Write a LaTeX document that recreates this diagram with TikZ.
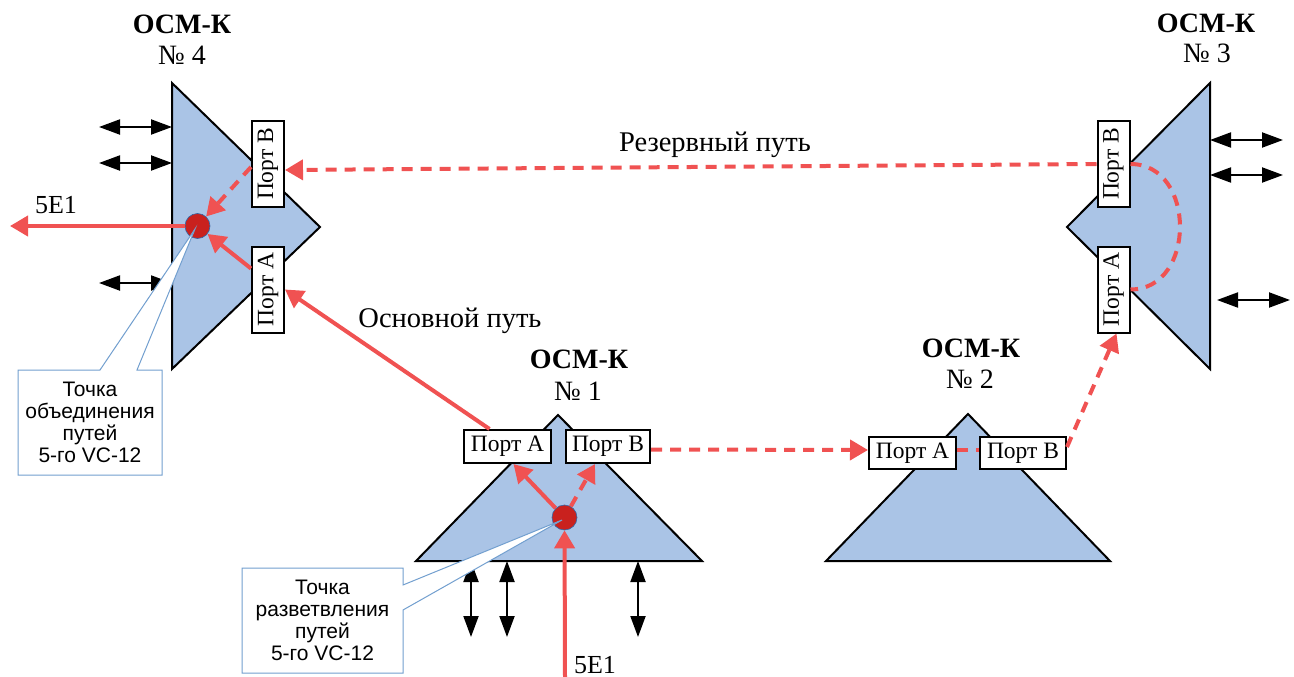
\documentclass[tikz,border=0pt]{standalone}
\usepackage{graphicx}
\usepackage{fontspec}
\setmainfont{Liberation Serif}
\newfontfamily\calloutfont{Liberation Sans}
\usetikzlibrary{arrows.meta}
\definecolor{trifill}{RGB}{170,196,230}
\definecolor{redl}{RGB}{240,82,82}
\definecolor{dotred}{RGB}{201,33,30}
\definecolor{dotblue}{RGB}{52,101,164}
\definecolor{callb}{RGB}{114,159,207}
\begin{document}
\begin{tikzpicture}[x=1pt,y=-1pt,
  trishape/.style={fill=trifill,draw=black,line width=2pt,line join=miter},
  port/.style={draw=black,fill=white,line width=2pt,inner sep=0pt,font=\fontsize{23.5}{25}\selectfont},
  hport/.style={port,minimum width=86pt,minimum height=33pt},
  vport/.style={port,minimum width=32pt,minimum height=86pt},
  redtip/.style={-{Triangle[length=18pt,width=20pt]}},
  redsolid/.style={draw=redl,line width=4pt,redtip},
  reddash/.style={draw=redl,line width=4pt,dash pattern=on 11pt off 8pt,redtip},
  reddashplain/.style={draw=redl,line width=4pt,dash pattern=on 11pt off 8pt},
  dblarrow/.style={draw=black,line width=2pt,{Triangle[length=21pt,width=15pt]}-{Triangle[length=21pt,width=15pt]}},
  dot/.style={circle,fill=dotred,draw=dotblue,line width=0.6pt,minimum size=25pt,inner sep=0pt},
  callout/.style={fill=white,draw=callb,line width=1pt,line join=miter},
  callouttext/.style={align=center,font=\calloutfont\fontsize{21}{22}\selectfont,inner sep=0pt},
  title/.style={anchor=base,font=\fontsize{28}{31}\selectfont\bfseries,inner sep=0pt},
  titlenum/.style={anchor=base,font=\fontsize{28}{31}\selectfont,inner sep=0pt},
  lbl/.style={anchor=base,font=\fontsize{26}{30}\selectfont,inner sep=0pt},
  pathlbl/.style={anchor=base,font=\fontsize{28.5}{32}\selectfont,inner sep=0pt}
]
\useasboundingbox (0,0) rectangle (1294,677);

% ---------- triangles ----------
\draw[trishape] (172,83) -- (320,227) -- (172,369) -- cycle;     % OCM-K 4
\draw[trishape] (1210,83) -- (1067,227) -- (1210,369) -- cycle;  % OCM-K 3
\draw[trishape] (558,415) -- (702,561) -- (416,561) -- cycle;    % OCM-K 1
\draw[trishape] (968,414) -- (1110,561) -- (826,561) -- cycle;   % OCM-K 2

% ---------- titles ----------
\node[title]    (t4a) at (182,34) {ОСМ-К};
\node[titlenum] (t4b) at (182,65) {№ 4};
\node[title]    (t3a) at (1206,33) {ОСМ-К};
\node[titlenum] (t3b) at (1207,63) {№ 3};
\node[title]    (t1a) at (579,368) {ОСМ-К};
\node[titlenum] (t1b) at (578,400) {№ 1};
\node[title]    (t2a) at (971,357) {ОСМ-К};
\node[titlenum] (t2b) at (970,388) {№ 2};

% ---------- ports ----------
\node[vport] (n4pB) at (268,164)   {\rotatebox{90}{Порт В}};
\node[vport] (n4pA) at (268,289.5) {\rotatebox{90}{Порт А}};
\node[vport] (n3pB) at (1113.5,164)   {\rotatebox{90}{Порт В}};
\node[vport] (n3pA) at (1113.5,289.5) {\rotatebox{90}{Порт А}};
\node[hport,minimum width=87pt] (n1pA) at (507.5,446.5) {Порт А};
\node[hport,minimum width=84pt] (n1pB) at (608,446.5)   {Порт В};
\node[hport,minimum width=87pt,minimum height=32pt] (n2pA) at (912.5,453) {Порт А};
\node[hport,minimum width=86pt,minimum height=32pt] (n2pB) at (1023,453)  {Порт В};

% ---------- junction dots ----------
\node[dot] (c4) at (197.5,226) {};
\node[dot] (c1) at (564.5,517.5) {};

% ---------- black double arrows ----------
\coordinate (a4l1) at (99,127);  \coordinate (a4r1) at (172,127);
\coordinate (a4l2) at (99,163);  \coordinate (a4r2) at (172,163);
\coordinate (a4l3) at (99,283);  \coordinate (a4r3) at (172,283);
\draw[dblarrow] (a4l1) -- (a4r1);
\draw[dblarrow] (a4l2) -- (a4r2);
\draw[dblarrow] (a4l3) -- (a4r3);
\coordinate (a3l1) at (1210,140); \coordinate (a3r1) at (1283,140);
\coordinate (a3l2) at (1210,175); \coordinate (a3r2) at (1283,175);
\coordinate (a3l3) at (1217,300); \coordinate (a3r3) at (1290,300);
\draw[dblarrow] (a3l1) -- (a3r1);
\draw[dblarrow] (a3l2) -- (a3r2);
\draw[dblarrow] (a3l3) -- (a3r3);
\coordinate (a1t1) at (471,561); \coordinate (a1b1) at (471,637);
\coordinate (a1t2) at (507,561); \coordinate (a1b2) at (507,637);
\coordinate (a1t3) at (638,561); \coordinate (a1b3) at (638,637);
\draw[dblarrow] (a1t1) -- (a1b1);
\draw[dblarrow] (a1t2) -- (a1b2);
\draw[dblarrow] (a1t3) -- (a1b3);

% ---------- red paths ----------
\coordinate (out4) at (10,226);
\coordinate (in1) at (565,677);
\draw[redsolid] (c4) -- (out4);
\draw[redsolid] (in1) -- (c1);
\draw[reddash] ([yshift=-3pt]n4pB.west) -- (c4);
\draw[redsolid] ([yshift=21pt]n4pA.west) -- (c4);
\draw[redsolid] (c1) -- ([xshift=6pt]n1pA.south);
\draw[reddash] (c1) -- ([xshift=-13pt]n1pB.south);
\draw[redsolid] ([xshift=-18pt]n1pA.north) -- (n4pA.east);
\draw[reddash] (n3pB.west) -- ([yshift=-6pt]n4pB.east);
\draw[reddash] ([yshift=-3pt]n1pB.east) -- ([yshift=3pt]n2pA.west);
\draw[reddashplain] ([yshift=3pt]n2pA.east) -- ([yshift=3pt]n2pB.west);
\draw[reddash] ([yshift=6pt]n2pB.east) -- ([xshift=3pt]n3pA.south);
\draw[reddashplain] (n3pB.east) .. controls +(66,0) and +(66,0) .. (n3pA.east);

% ---------- labels ----------
\node[lbl] (l5e4) at (56,213) {5E1};
\node[lbl] (l5e1) at (595,673) {5E1};
\node[pathlbl] (lres) at (715,151) {Резервный путь};
\node[pathlbl] (lmain) at (450,327) {Основной путь};

% ---------- callouts ----------
\draw[callout] (18,370) -- (100,370) -- (195,229) -- (137,370) -- (162,370)
  -- (162,475) -- (18,475) -- cycle;
\node[callouttext] (co4) at (90,422) {Точка\\объединения\\путей\\5-го VC-12};
\draw[callout] (242,568) -- (403,568) -- (403,585) -- (562,520) -- (403,610)
  -- (403,673) -- (242,673) -- cycle;
\node[callouttext] (co1) at (322.5,620) {Точка\\разветвления\\путей\\5-го VC-12};
\end{tikzpicture}
\end{document}
